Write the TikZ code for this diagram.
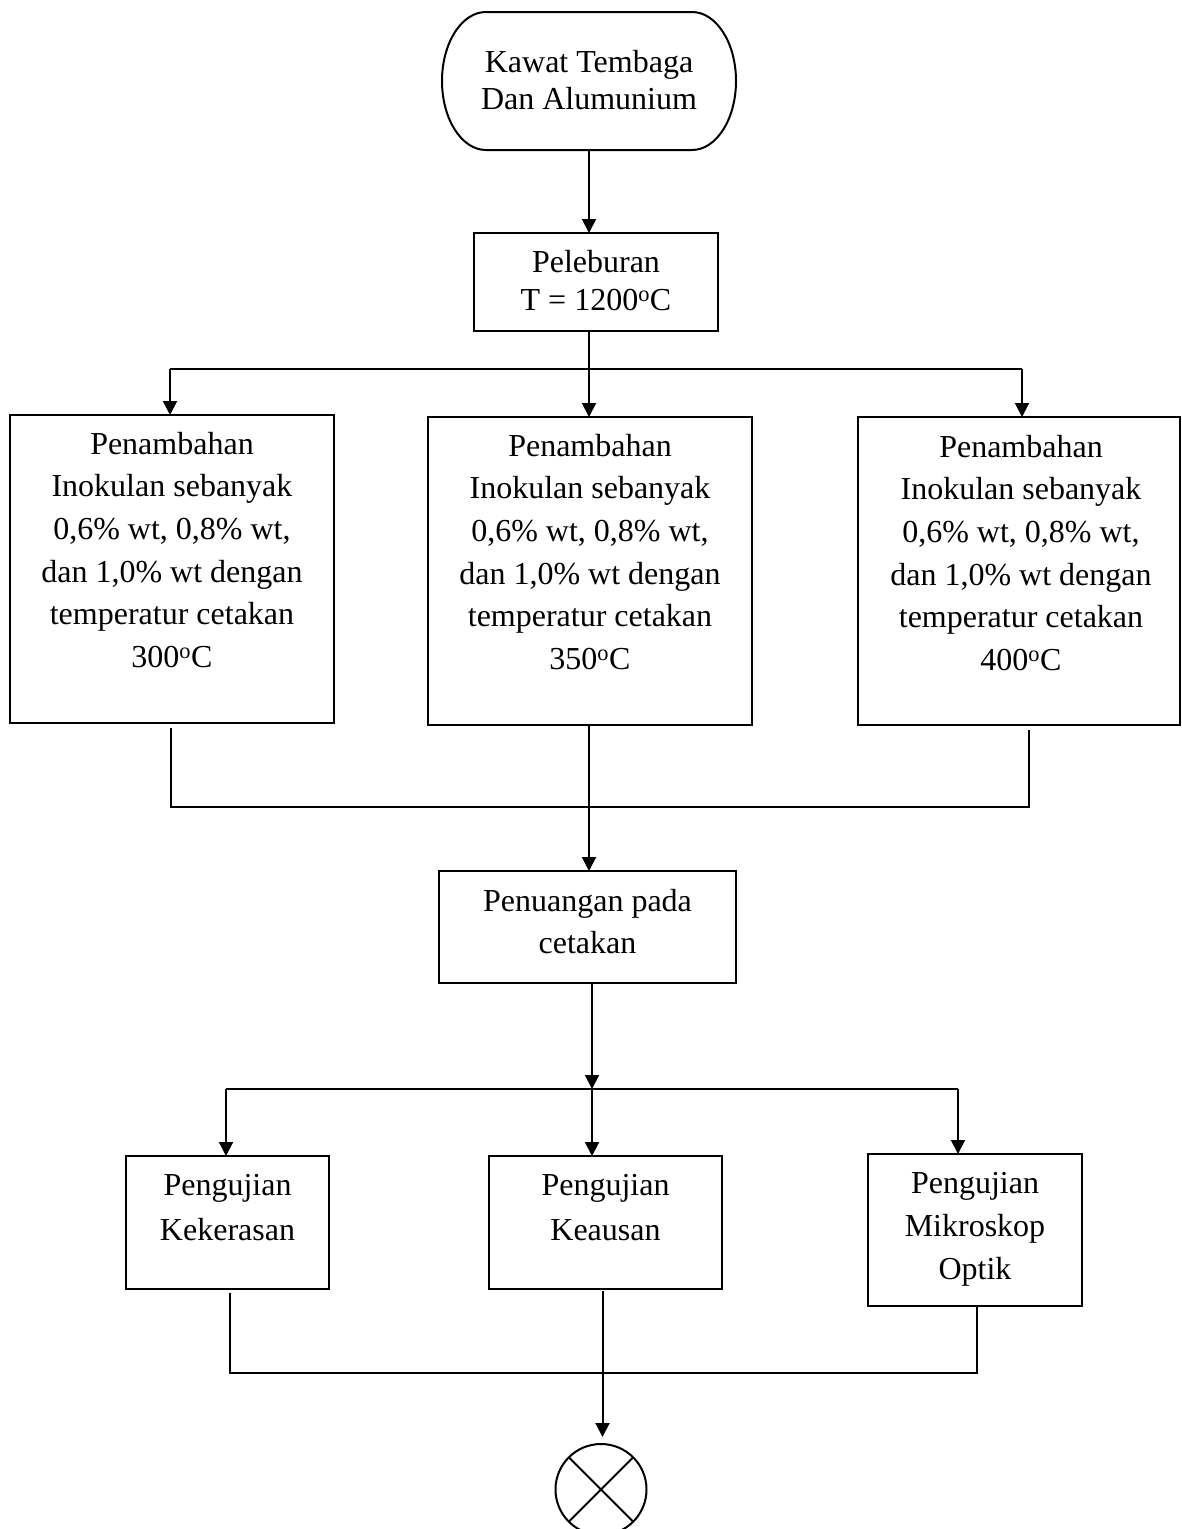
\documentclass[tikz,border=0pt]{standalone}
\usepackage{fontspec}
\setmainfont{Liberation Serif}
\usetikzlibrary{arrows.meta,shapes.geometric}
\newcommand\tl{\rule{0pt}{30pt}}
\tikzset{
  conn/.style={line width=2pt},
  arr/.style={line width=2pt,-{Triangle[length=14pt,width=14pt]}},
  boxnode/.style={draw,line width=2pt,inner sep=0pt,outer sep=0pt},
  lbl/.style={inner sep=0pt,anchor=north,align=center},
}
\begin{document}
\begin{tikzpicture}[x=1pt,y=-1pt]
\fill[white] (0,0) rectangle (1181,1529);
\useasboundingbox (0,0) rectangle (1181,1529);

% terminal (stadium with elliptical ends)
\node[inner sep=0pt,outer sep=0pt,minimum width=294pt,minimum height=138pt] (term) at (589,81) {};
\draw[conn] ([xshift=44pt]term.north west) -- ([xshift=-44pt]term.north east)
  arc[start angle=90,end angle=-90,x radius=44pt,y radius=69pt]
  -- ([xshift=44pt]term.south west)
  arc[start angle=270,end angle=90,x radius=44pt,y radius=69pt] -- cycle;

% boxes
\node[boxnode,minimum width=244pt,minimum height=98pt] (pel) at (596,282) {};
\node[boxnode,minimum width=324pt,minimum height=308pt] (b1) at (172,569) {};
\node[boxnode,minimum width=324pt,minimum height=308pt] (b2) at (590,571) {};
\node[boxnode,minimum width=322pt,minimum height=308pt] (b3) at (1019,571) {};
\node[boxnode,minimum width=297pt,minimum height=112pt] (pen) at (587.5,927) {};
\node[boxnode,minimum width=203pt,minimum height=133pt] (k1) at (227.5,1222.5) {};
\node[boxnode,minimum width=233pt,minimum height=133pt] (k2) at (605.5,1222.5) {};
\node[boxnode,minimum width=214pt,minimum height=152pt] (k3) at (975,1230) {};
\node[boxnode,circle,minimum size=91pt] (end) at (601,1489.5) {};
\draw[conn] (end.45) -- (end.225) (end.135) -- (end.-45);

% texts
\node[lbl,font=\fontsize{32}{37}\selectfont] (tterm) at ([yshift=-30pt]term.north) {\tl Kawat Tembaga\\Dan Alumunium};
\node[lbl,font=\fontsize{32}{38}\selectfont] (tpel) at ([yshift=-9pt]pel.north) {\tl Peleburan\\T = 1200\textsuperscript{o}C};
\node[lbl,font=\fontsize{32}{42.6}\selectfont] (tb1) at ([yshift=-9pt]b1.north) {\tl Penambahan\\Inokulan sebanyak\\0,6\% wt, 0,8\% wt,\\dan 1,0\% wt dengan\\temperatur cetakan\\300\textsuperscript{o}C};
\node[lbl,font=\fontsize{32}{42.6}\selectfont] (tb2) at ([yshift=-9pt]b2.north) {\tl Penambahan\\Inokulan sebanyak\\0,6\% wt, 0,8\% wt,\\dan 1,0\% wt dengan\\temperatur cetakan\\350\textsuperscript{o}C};
\node[lbl,font=\fontsize{32}{42.6}\selectfont] (tb3) at ([xshift=2pt,yshift=-10pt]b3.north) {\tl Penambahan\\Inokulan sebanyak\\0,6\% wt, 0,8\% wt,\\dan 1,0\% wt dengan\\temperatur cetakan\\400\textsuperscript{o}C};
\node[lbl,font=\fontsize{32}{42}\selectfont] (tpen) at ([yshift=-10pt]pen.north) {\tl Penuangan pada\\cetakan};
\node[lbl,font=\fontsize{32}{45}\selectfont] (tk1) at ([yshift=-9pt]k1.north) {\tl Pengujian\\Kekerasan};
\node[lbl,font=\fontsize{32}{45}\selectfont] (tk2) at ([yshift=-9pt]k2.north) {\tl Pengujian\\Keausan};
\node[lbl,font=\fontsize{32}{43}\selectfont] (tk3) at ([yshift=-9pt]k3.north) {\tl Pengujian\\Mikroskop\\Optik};

% coordinates of junctions
\coordinate (s1) at (589,369);
\coordinate (s1L) at (170,369);
\coordinate (s1R) at (1022,369);
\coordinate (m1) at (589,807);
\coordinate (m1L) at (171,807);
\coordinate (m1R) at (1029,807);
\coordinate (s2) at (592,1089);
\coordinate (s2L) at (226,1089);
\coordinate (s2R) at (958,1089);
\coordinate (m2) at (602.5,1373);
\coordinate (m2L) at (229.5,1373);
\coordinate (m2R) at (977,1373);

% connectors
\draw[arr] (term.south) -- (term.south |- pel.north);
\draw[conn] (s1 |- pel.south) -- (s1);
\draw[conn,line width=2.4pt] (s1L) -- (s1R);
\draw[arr] (s1L) -- (s1L |- b1.north);
\draw[arr] (s1) -- (s1 |- b2.north);
\draw[arr] (s1R) -- (s1R |- b3.north);

\draw[conn] ([yshift=-5pt]b1.south -| m1L) -- (m1L) -- (m1R) -- ([yshift=-5pt]b3.south -| m1R);
\draw[conn] (b2.south -| m1) -- (m1);
\draw[arr] (m1) -- (m1 |- pen.north);

\draw[arr] (s2 |- pen.south) -- (s2);
\draw[conn,line width=2.4pt] (s2L) -- (s2R);
\draw[arr] (s2L) -- (s2L |- k1.north);
\draw[arr] (s2) -- (s2 |- k2.north);
\draw[arr] (s2R) -- (s2R |- k3.north);

\draw[conn] ([yshift=-4pt]k1.south -| m2L) -- (m2L) -- (m2R) -- (k3.south -| m2R);
\draw[conn] ([yshift=-2pt]k2.south -| m2) -- (m2);
\draw[arr,shorten >=7pt] (m2) -- (m2 |- end.north);
\end{tikzpicture}
\end{document}
